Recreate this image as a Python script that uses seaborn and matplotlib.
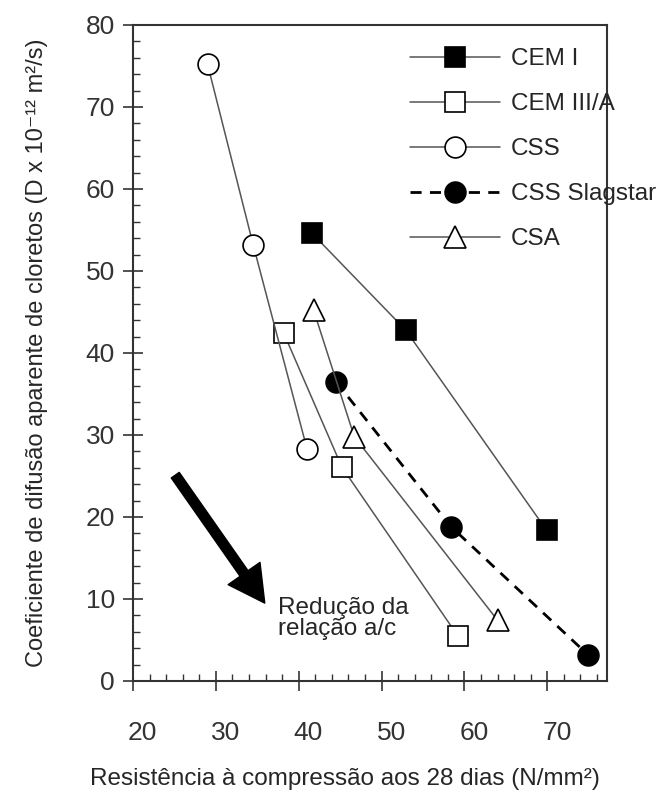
import numpy as np
import pandas as pd
import matplotlib
matplotlib.use('Agg')
import matplotlib.pyplot as plt
import matplotlib.transforms as mtransforms
from matplotlib.ticker import MultipleLocator
import seaborn as sns

# values
cem1_x = [41.6, 52.9, 69.9]
cem1_y = [54.6, 42.8, 18.4]
cem3_x = [38.2, 45.2, 59.2]
cem3_y = [42.4, 26.1, 5.5]
css_x = [29.0, 34.5, 41.0]
css_y = [75.2, 53.2, 28.3]
slag_x = [44.5, 58.4, 74.9]
slag_y = [36.5, 18.8, 3.2]
csa_x = [41.8, 46.7, 64.0]
csa_y = [45.2, 29.8, 7.4]

x_ticks = [20, 30, 40, 50, 60, 70]
y_ticks = [0, 10, 20, 30, 40, 50, 60, 70, 80]

sns.set_style('ticks')
plt.rcParams['font.family'] = ['Liberation Sans', 'DejaVu Sans']

fig = plt.figure(figsize=(6.59, 7.94), dpi=100)
ax = fig.add_axes([133/659, 1 - 681/794, (607 - 133)/659, (681 - 25)/794])

series = [
    ('CEM I', cem1_x, cem1_y, 's', 'black', '#555555', '-'),
    ('CEM III/A', cem3_x, cem3_y, 's', 'white', '#555555', '-'),
    ('CSS', css_x, css_y, 'o', 'white', '#555555', '-'),
    ('CSS Slagstar', slag_x, slag_y, 'o', 'black', 'black', '--'),
    ('CSA', csa_x, csa_y, '^', 'white', '#555555', '-'),
]

for name, xs, ys, mk, fc, lc, ls in series:
    df = pd.DataFrame({'x': xs, 'y': ys})
    lw = 2.0 if ls == '--' else 1.1
    sns.lineplot(data=df, x='x', y='y', ax=ax, label=name, sort=False,
                 color=lc, marker=mk, markersize=15 if mk != '^' else 16,
                 markerfacecolor=fc, markeredgecolor='black',
                 markeredgewidth=1.2, linewidth=lw)
    l = ax.get_lines()[-1]
    if ls == '--':
        l.set_dashes((4, 3))

ax.set_xlim(20, 77.2)
ax.set_ylim(0, 80)
ax.set_xticks(x_ticks)
ax.set_yticks(y_ticks)
ax.xaxis.set_minor_locator(MultipleLocator(2))
ax.yaxis.set_minor_locator(MultipleLocator(2))
ax.tick_params(which='major', direction='inout', length=14, width=1.2,
               color='#333333', labelsize=19, labelcolor='#333333')
ax.tick_params(axis='x', which='major', pad=22)
ax.tick_params(axis='y', which='major', pad=6)
ax.tick_params(which='minor', direction='in', length=5, width=1.0, color='#333333')
offset = mtransforms.ScaledTranslation(7/72, 0, fig.dpi_scale_trans)
for lab in ax.get_xticklabels():
    lab.set_transform(lab.get_transform() + offset)

for s in ax.spines.values():
    s.set_visible(True)
    s.set_linewidth(1.5)
    s.set_color('#333333')

ax.set_xlabel('Resistência à compressão aos 28 dias (N/mm²)', fontsize=17.5, labelpad=16)
ax.xaxis.label.set_x(0.447)
ax.set_ylabel('Coeficiente de difusão aparente de cloretos (D x 10⁻¹² m²/s)',
              fontsize=17, labelpad=27)

ax.annotate('', xy=(35.9, 9.5), xytext=(25.1, 25.1),
            arrowprops=dict(facecolor='black', edgecolor='black', width=7,
                            headwidth=28, headlength=26, shrink=0))
ax.text(37.5, 7.6, 'Redução da\nrelação a/c', fontsize=17.5, va='center', ha='left',
        linespacing=0.95)

leg = ax.legend(loc='upper left', bbox_to_anchor=(410/659, 1 - 48/794),
                bbox_transform=fig.transFigure, frameon=False, fontsize=17.5,
                handlelength=3.7, handletextpad=0.45, labelspacing=0.95,
                borderpad=0, borderaxespad=0, numpoints=1)

fig.savefig('out.png', dpi=100)
